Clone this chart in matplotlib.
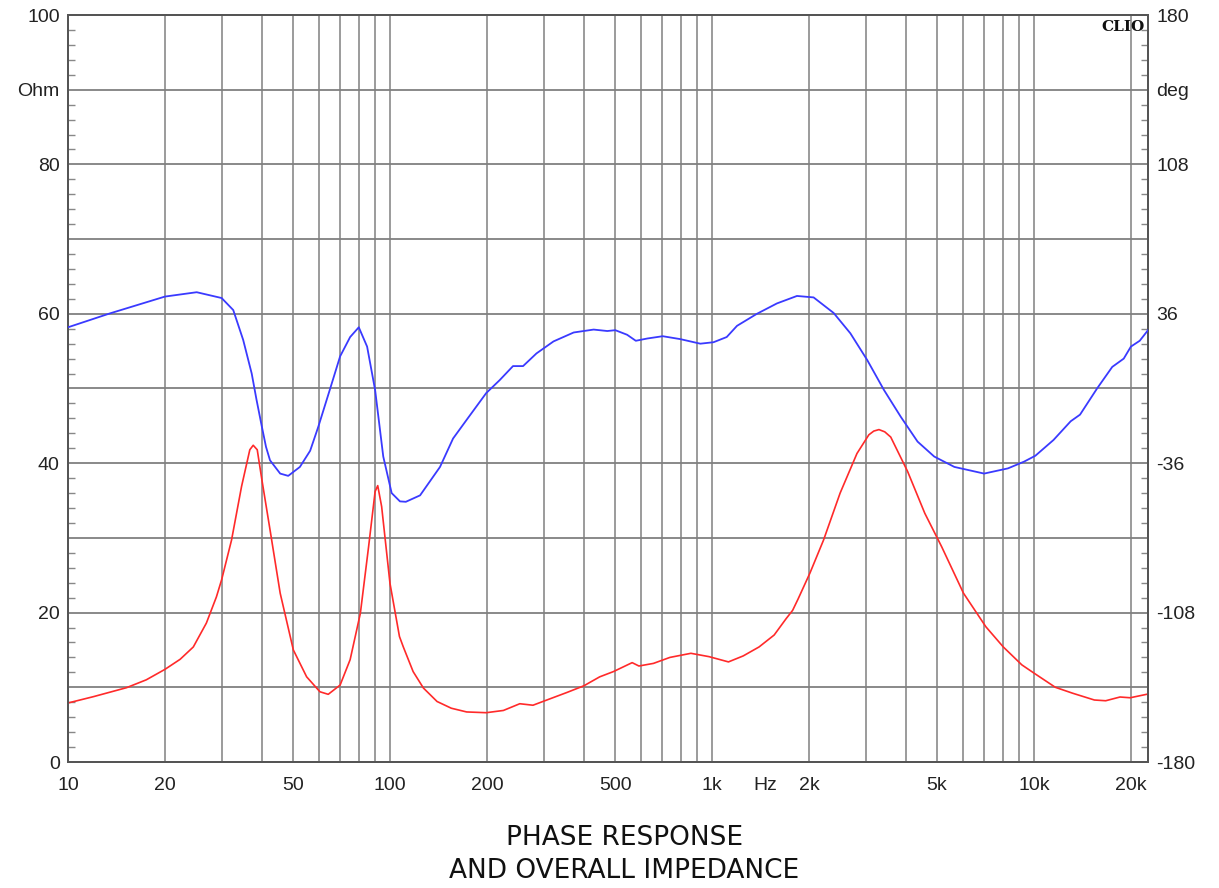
import numpy as np
import matplotlib
matplotlib.use('Agg')
import matplotlib.pyplot as plt
from matplotlib.ticker import MultipleLocator, FixedLocator, NullFormatter

# impedance magnitude (ohm) vs frequency (Hz)
imp_freq = [10, 12, 15.2, 17.5, 20, 22.3, 24.5, 26.9, 28.9, 30, 32.2, 34.6, 36.7, 37.6, 38.7,
            40, 42.4, 45.6, 50.1, 55.1, 60.6, 64.3, 70, 75.2, 80.9, 85.8, 89.9, 91.6,
            94.2, 100, 107, 110, 118, 127, 140, 155, 173, 199, 225, 253, 278, 307, 354,
            400, 448, 494, 565, 593, 658, 740, 860, 980, 1125, 1250, 1400, 1560,
            1700, 1780, 1850, 2015, 2220, 2500, 2820, 3070, 3180, 3300, 3440, 3590, 4050,
            4580, 5170, 6040, 7090, 8030, 9170, 10000, 11650, 13200, 15400, 16700,
            18500, 19900, 22600]
imp_ohm = [7.9, 8.75, 9.95, 11.0, 12.4, 13.75, 15.4, 18.6, 22.1, 24.4, 29.7, 36.9, 41.8, 42.4,
           41.8, 37.8, 31.1, 22.6, 15.0, 11.4, 9.4, 9.06, 10.3, 13.7, 19.9, 28.8, 36.2, 37.0,
           34.2, 23.9, 16.8, 15.4, 12.1, 9.9, 8.1, 7.2, 6.7, 6.6, 6.9, 7.8, 7.6, 8.3, 9.3,
           10.2, 11.4, 12.1, 13.3, 12.85, 13.2, 14.0, 14.55, 14.1, 13.4, 14.2, 15.4, 17.0,
           19.2, 20.3, 21.8, 25.3, 29.7, 36.0, 41.3, 43.8, 44.3, 44.5, 44.2, 43.5, 38.9,
           33.3, 28.8, 22.6, 18.1, 15.4, 13.0, 11.9, 10.0, 9.2, 8.3, 8.2,
           8.7, 8.6, 9.1]

# phase (deg) vs frequency (Hz)
ph_freq = [10, 13.5, 20, 25.1, 30, 32.6, 35.0, 37.2, 38.5, 40, 41.2, 42.4, 45.6, 48.3,
           52.5, 56.5, 59.9, 65.0, 70, 75.2, 80, 84.9, 89.9, 95.3, 101.2, 107.4, 112,
           124, 143, 157, 173, 199, 219, 241, 259, 285, 322, 372, 429, 473, 501, 545,
           580, 630, 703, 797, 920, 1011, 1111, 1196, 1379, 1591, 1836, 2068, 2387,
           2690, 3035, 3420, 3860, 4350, 4900, 5660, 7000, 8300, 9300, 10100, 11500,
           13000, 13900, 15700, 17500, 19000, 20000, 21300, 22600]
ph_deg = [29.5, 36.2, 44.3, 46.4, 43.6, 37.8, 23.4, 7.2, -5.4, -18.4, -28.1, -34.6, -41.0,
          -42.1, -37.8, -30.0, -18.4, -0.7, 15.5, 24.8, 29.5, 20.2, -0.7, -32.8, -50.4, -54.4,
          -54.6, -51.5, -37.8, -24.1, -15.1, -2.2, 4.0, 10.8, 10.8, 16.9, 22.7, 27.0, 28.4,
          27.7, 28.1, 25.9, 23.0, 24.1, 25.2, 23.8, 21.6, 22.3, 24.8, 30.2, 36.0, 41.0, 44.6,
          43.9, 36.4, 26.6, 13.7, -0.7, -13.7, -25.6, -32.8, -37.8, -41.0, -38.5, -35.3,
          -32.4, -24.8, -15.8, -12.6, 0.0, 10.4, 14.4, 20.2, 23.0, 28.1]

x_ticks = [10, 20, 50, 100, 200, 500, 1000, 2000, 5000, 10000, 20000]
x_labels = ['10', '20', '50', '100', '200', '500', '1k', '2k', '5k', '10k', '20k']
ohm_labels = ['0', '', '20', '', '40', '', '60', '', '80', 'Ohm', '100']
deg_labels = ['-180', '', '-108', '', '-36', '', '36', '', '108', 'deg', '180']

plt.rcParams['font.family'] = ['Liberation Sans', 'DejaVu Sans']

fig = plt.figure(figsize=(12.19, 8.88), dpi=100)
ax = fig.add_axes([68/1219, 1-762/888, (1148-68)/1219, (762-15)/888])
ax2 = ax.twinx()

grid_c = '#808080'
spine_c = '#555555'
lab_size = 14

ax.set_xscale('log')
ax.set_xlim(10, 22600)
ax.set_ylim(0, 100)
ax2.set_ylim(-180, 180)

# vertical grid at every 1..9 multiple, horizontal every 10 ohm
vlines = [m * 10**e for e in range(1, 5) for m in range(1, 10) if 10 < m * 10**e < 22600]
for v in vlines:
    ax.axvline(v, color=grid_c, lw=1.1, zorder=0)
for h in range(10, 100, 10):
    ax.axhline(h, color=grid_c, lw=1.3, zorder=0)

ax.plot(imp_freq, imp_ohm, color='#ff2a2a', lw=1.2, zorder=3)
ax2.plot(ph_freq, ph_deg, color='#3a3aff', lw=1.3, zorder=3)

ax.xaxis.set_major_locator(FixedLocator(x_ticks))
ax.set_xticklabels(x_labels)
ax.xaxis.set_minor_formatter(NullFormatter())
ax.tick_params(axis='x', which='both', length=0, pad=11, labelsize=lab_size, colors='#222222')

ax.set_yticks(np.arange(0, 101, 10))
ax.set_yticklabels(ohm_labels)
ax.yaxis.set_minor_locator(MultipleLocator(2))
ax.tick_params(axis='y', which='major', length=0, pad=6, labelsize=lab_size, colors='#222222')
ax.tick_params(axis='y', which='minor', direction='in', length=5, width=1, color='#888888')

ax2.set_yticks(np.arange(-180, 181, 36))
ax2.set_yticklabels(deg_labels)
ax2.yaxis.set_minor_locator(MultipleLocator(7.2))
ax2.tick_params(axis='y', which='major', length=0, pad=6, labelsize=lab_size, colors='#222222')
ax2.tick_params(axis='y', which='minor', direction='in', length=5, width=1, color='#888888')

for a in (ax, ax2):
    for s in a.spines.values():
        s.set_color(spine_c)
        s.set_linewidth(1.4)

ax.text(1460, -2.0, 'Hz', ha='center', va='top', fontsize=lab_size, color='#222222')
ax.text(0.997, 0.993, 'CLIO', transform=ax.transAxes, ha='right', va='top',
        fontfamily='DejaVu Serif', fontweight='bold', fontsize=11, color='#111111')

fig.text(0.512, 0.038, 'PHASE RESPONSE\nAND OVERALL IMPEDANCE', ha='center', va='center',
         fontfamily='DejaVu Sans', fontsize=19, linespacing=1.33, color='#111111')

fig.savefig('out.png', dpi=100)
